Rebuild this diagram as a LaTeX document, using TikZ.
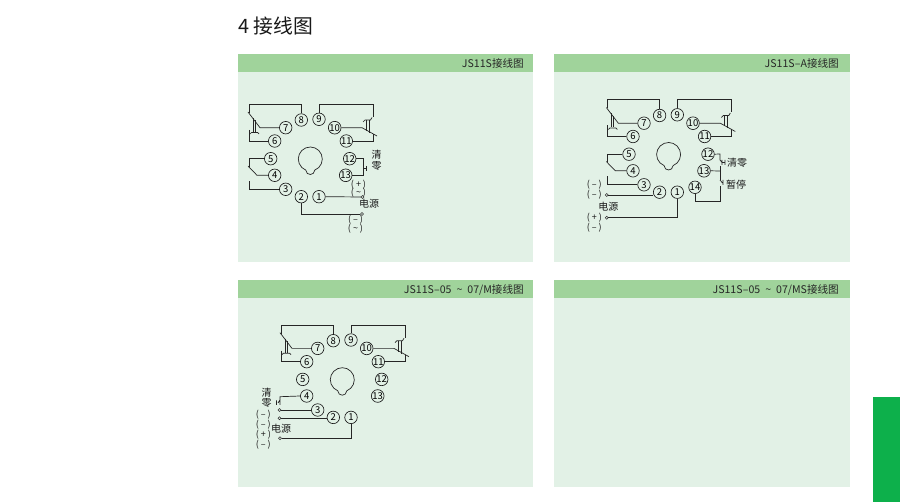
\documentclass[tikz,border=0pt]{standalone}
\usepackage{fontspec}
\setmainfont{Noto Sans CJK SC}
\newcommand{\sg}[1]{(\hspace{2pt}#1\hspace{2pt})}
\begin{document}
\begin{tikzpicture}[x=1pt,y=-1pt,
  wire/.style={draw=black!85,line width=0.7pt},
  term/.style={circle,draw=black!90,line width=0.65pt,minimum size=12.5pt,inner sep=0pt,font=\fontsize{9.5}{9.5}\selectfont},
  port/.style={circle,draw=black!80,line width=0.5pt,minimum size=3pt,inner sep=0pt,fill=none},
  lab/.style={inner sep=0pt,font=\fontsize{10}{10}\selectfont,text=black!90},
  sign/.style={inner sep=0pt,font=\fontsize{9}{10}\selectfont,text=black!90},
  head/.style={inner sep=0pt,anchor=east,font=\fontsize{10.6}{11}\selectfont,text=black!85},
  panel/.style={fill=panelbg,draw=none},
  headbar/.style={fill=headbg,draw=none}]
\definecolor{panelbg}{HTML}{E2F1E6}
\definecolor{headbg}{HTML}{A0D39B}
\definecolor{sidebar}{HTML}{0DB04B}
\useasboundingbox (0,0) rectangle (900,502);
\fill[white] (0,0) rectangle (900,502);
\node[inner sep=0pt,anchor=west,font=\fontsize{19.8}{20}\selectfont,text=black!90] (title) at (238,26) {4 接线图};
% panels
\path[panel] (238,54) rectangle (533,262);
\path[panel] (554,54) rectangle (850,262);
\path[panel] (238,280) rectangle (533,487);
\path[panel] (554,280) rectangle (850,487);
\path[headbar] (238,54) rectangle (533,72);
\path[headbar] (554,54) rectangle (850,72);
\path[headbar] (238,280) rectangle (533,298);
\path[headbar] (554,280) rectangle (850,298);
\node[head] (h1) at (524,63.5) {JS11S接线图};
\node[head] (h2) at (839,63.5) {JS11S–A接线图};
\node[head] (h3) at (524,289.5) {JS11S–05\hspace{5pt}\textasciitilde\hspace{5pt}07/M接线图};
\node[head] (h4) at (839,289.5) {JS11S–05\hspace{5pt}\textasciitilde\hspace{5pt}07/MS接线图};
\fill[sidebar] (873,397) rectangle (900,502);
\newcommand{\relayunit}[3]{%
\begin{scope}[shift={(#2,#3)}]
  \node[term] (#11) at (319,196.7) {1};
  \node[term] (#12) at (301.3,196.7) {2};
  \node[term] (#13) at (285.7,189.3) {3};
  \node[term] (#14) at (274.7,175.3) {4};
  \node[term] (#15) at (270.7,158.7) {5};
  \node[term] (#16) at (274.7,141) {6};
  \node[term] (#17) at (285.7,127.7) {7};
  \node[term] (#18) at (301.3,120) {8};
  \node[term] (#19) at (319,119.3) {9};
  \node[term] (#1t) at (334.7,127.7) {10};
  \node[term] (#1e) at (346.3,141) {11};
  \node[term] (#1w) at (349.7,158.7) {12};
  \node[term] (#1h) at (345.7,175.3) {13};
  % central socket
  \draw[wire] (310.3,159) ++(68:12) arc (68:-248:12)
     .. controls (306.5,173) and (307.5,174.5) .. (310.3,174.5)
     .. controls (313,174.5) and (314,173) .. (314.8,170.1);
  % left changeover contact
  \draw[wire] (#18.north) -- (#18.north |- 0,104.3) -- (249,104.3) -- (249,113);
  \draw[wire] (248,112) -- (260,127.7) -- (#17.west);
  \draw[wire] (253,118) -- (253,132) (255.5,120.5) -- (255.5,132);
  \draw[wire] (250,134) -- (251.5,132.5) -- (257.5,132.5) -- (259,134);
  \draw[wire] (249,130) -- (249,141) -- (#16.west);
  % right changeover contact
  \draw[wire] (#19.north) -- (#19.north |- 0,104.3) -- (373,104.3) -- (373,117);
  \draw[wire] (#1t.east) -- (362,127.7) -- (377,136);
  \draw[wire] (366.5,120) -- (366.5,131) (369,120) -- (369,133);
  \draw[wire] (363,122) -- (365,120) -- (370.5,120) -- (372,117.5);
  \draw[wire] (#1e.east) -- (373,141) -- (373,134);
\end{scope}}
\newcommand{\sideout}[3]{%
\begin{scope}[shift={(#2,#3)}]
  \draw[wire] (#15.west) -- (249,158.7) -- (249,167);
  \draw[wire] (248,166) -- (257,175.3) -- (#14.west);
  \draw[wire] (#13.west) -- (249,189.3) -- (249,181);
\end{scope}}
% ---------- diagram 1
\relayunit{a}{0}{0}
\sideout{a}{0}{0}
\coordinate (aj1) at (363,158.7);
\coordinate (aj2) at (363,175.3);
\draw[wire] (aw.east) -- (aj1) -- (363,166.5);
\draw[wire] (ah.east) -- (aj2) -- (363,171);
\draw[wire] (363,166.5) -- (363,171) (363,168.5) -- (366,168.5) (366,166) -- (366,171);
\node[lab] (aq) at (376.5,155) {清};
\node[lab] (al) at (376.5,166) {零};
\node[sign] (ap) at (358.5,185) {\sg{+}};
\node[sign] (at) at (358.5,192.7) {\sg{\textasciitilde}};
\node[port] (apa) at (362.5,197) {};
\draw[wire] (a1.east) -- (apa);
\node[lab] (ady) at (369,203.5) {电源};
\node[port] (apb) at (362,214) {};
\draw[wire] (a2.south) -- (a2.south |- apb) -- (apb);
\node[sign] (am) at (355.5,219.5) {\sg{–}};
\node[sign] (at2) at (355.5,228.5) {\sg{\textasciitilde}};
% ---------- diagram 2
\relayunit{b}{358.3}{-4.5}
\sideout{b}{358.3}{-4.5}
\node[term] (b14) at (695,187.3) {14};
\coordinate (bc1) at (720,154);
\coordinate (bc2) at (720,171);
\coordinate (bc3) at (720,201.7);
\draw[wire] (bw.east) -- (bc1) -- (720,160);
\draw[wire] (720,160) -- (722,162.5) (722,160) -- (722,165) (722,162.5) -- (725,162.5) (725,160) -- (725,165);
\draw[wire] (720,166) -- (720,180);
\draw[wire] (bh.east) -- (bc2);
\draw[wire] (720,180) -- (722.5,183) (723,180) -- (723,185);
\draw[wire] (720,186) -- (bc3) -- (bc3 -| b14.south) -- (b14.south);
\node[lab] (bq) at (737,162.5) {清零};
\node[lab] (bz) at (736,185) {暂停};
\node[sign] (bm1) at (594.3,184.3) {\sg{–}};
\node[sign] (bm2) at (594.3,195) {\sg{–}};
\node[port] (bpa) at (606.7,195) {};
\draw[wire] (bpa) -- (bpa -| b2.west);
\node[lab] (bdy) at (608.3,206.7) {电源};
\node[sign] (bpl) at (594.3,217.7) {\sg{+}};
\node[port] (bpb) at (606.7,217.7) {};
\draw[wire] (bpb) -- (bpb -| b1.south) -- (b1.south);
\node[sign] (bm3) at (594.3,227.7) {\sg{–}};
% ---------- diagram 3
\relayunit{c}{32}{220.7}
\node[lab] (cq) at (266.7,392.7) {清};
\node[lab] (cl) at (266.7,402.7) {零};
\draw[wire] (c4.west) -- (280,396.7) -- (280,400);
\draw[wire] (280,400) -- (280,405) (280,400) -- (278,403) (276.5,400.5) -- (276.5,405);
\node[port] (cpa) at (279.5,410) {};
\draw[wire] (cpa.east) -- (c3.west);
\node[port] (cpb) at (279.5,418.3) {};
\draw[wire] (cpb) -- (cpb -| c2.west);
\node[sign] (cm1) at (263.3,414.3) {\sg{–}};
\node[sign] (cm2) at (263.3,424.3) {\sg{–}};
\node[lab] (cdy) at (281,429) {电源};
\node[sign] (cpl) at (263.3,435) {\sg{+}};
\node[port] (cpc) at (280,438.3) {};
\draw[wire] (cpc) -- (cpc -| c1.south) -- (c1.south);
\node[sign] (cm3) at (263.3,445) {\sg{–}};
\end{tikzpicture}
\end{document}
